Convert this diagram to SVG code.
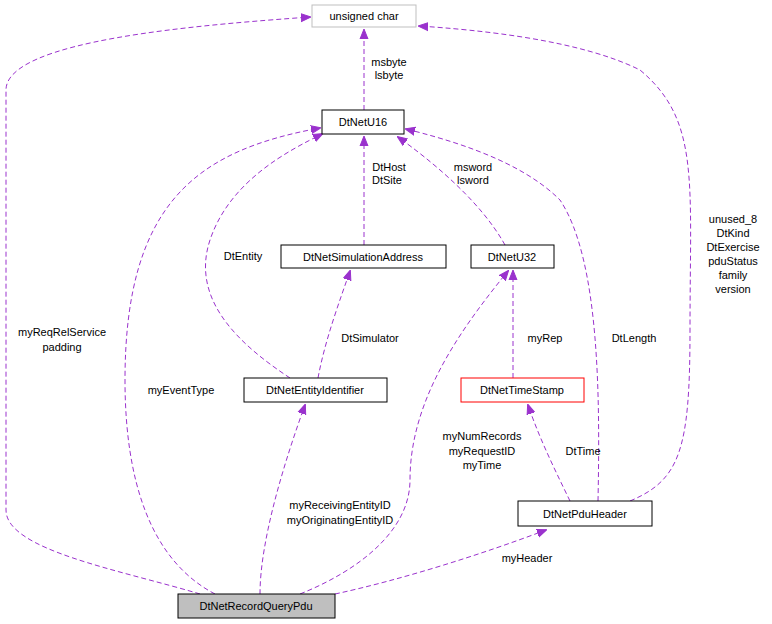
<svg xmlns="http://www.w3.org/2000/svg" width="772" height="624" viewBox="0 0 772 624">
<style>
text{font-family:"Liberation Sans",Arial,sans-serif;font-size:11px;fill:#000}
.n rect{fill:#fff;stroke:#000;stroke-width:1}
.e path{fill:none;stroke:#9a32cd;stroke-width:1;stroke-dasharray:5,3}
.c{text-anchor:middle}
</style>
<defs><marker id="a" markerWidth="10" markerHeight="10" refX="9" refY="5" orient="auto" markerUnits="userSpaceOnUse"><path d="M0,1 L10,5 L0,9 z" fill="#9a32cd" stroke="#9a32cd"/></marker></defs>
<rect width="772" height="624" fill="#fff"/>
<g class="e">
<path d="M364,110 V30" marker-end="url(#a)"/>
<path d="M364,245 V137" marker-end="url(#a)"/>
<path d="M505,245 C480,200 430,160 398,137" marker-end="url(#a)"/>
<path d="M290,378 C240,345 190,300 210,240 C230,180 290,150 322,134" marker-end="url(#a)"/>
<path d="M318,378 C325,340 340,300 350,271" marker-end="url(#a)"/>
<path d="M513,378 V271" marker-end="url(#a)"/>
<path d="M570,501 C555,470 540,440 528,405" marker-end="url(#a)"/>
<path d="M598,501 C600,400 600,260 560,200 C520,160 450,140 406,129" marker-end="url(#a)"/>
<path d="M630,501 C680,480 690,450 690,330 C690,180 700,120 640,70 C580,40 480,30 419,26" marker-end="url(#a)"/>
<path d="M200,594 C120,570 6,550 6,510 V90 C6,40 200,25 310,17" marker-end="url(#a)"/>
<path d="M215,594 C150,560 125,480 125,380 C125,200 200,150 320,128" marker-end="url(#a)"/>
<path d="M260,594 C260,540 285,460 305,405" marker-end="url(#a)"/>
<path d="M300,594 C360,570 410,530 410,480 C410,400 460,330 508,271" marker-end="url(#a)"/>
<path d="M335,594 C400,580 480,555 546,530" marker-end="url(#a)"/>
</g>
<g id="n_uchar" class="n"><rect x="312" y="5" width="104" height="22" style="stroke:#bfbfbf"/><text x="364" y="20" class="c">unsigned char</text></g>
<g id="n_u16" class="n"><rect x="322" y="110" width="82" height="24"/><text x="363" y="126" class="c">DtNetU16</text></g>
<g id="n_sim" class="n"><rect x="281" y="245" width="165" height="23"/><text x="363" y="261" class="c">DtNetSimulationAddress</text></g>
<g id="n_u32" class="n"><rect x="471" y="245" width="83" height="23"/><text x="512" y="261" class="c">DtNetU32</text></g>
<g id="n_ent" class="n"><rect x="244" y="378" width="143" height="24"/><text x="315" y="394" class="c">DtNetEntityIdentifier</text></g>
<g id="n_ts" class="n"><rect x="461" y="378" width="123" height="24" style="stroke:#ff0000"/><text x="522" y="394" class="c">DtNetTimeStamp</text></g>
<g id="n_pdu" class="n"><rect x="518" y="501" width="134" height="25"/><text x="585" y="518" class="c">DtNetPduHeader</text></g>
<g id="n_rq" class="n"><rect x="178" y="594" width="157" height="24" style="fill:#bfbfbf"/><text x="256" y="610" class="c">DtNetRecordQueryPdu</text></g>
<g id="labels">
<text x="389" y="66" class="c">msbyte</text><text x="389" y="79" class="c">lsbyte</text>
<text x="389" y="171" class="c">DtHost</text><text x="387" y="184" class="c">DtSite</text>
<text x="473" y="171" class="c">msword</text><text x="473" y="184" class="c">lsword</text>
<text x="243" y="260" class="c">DtEntity</text>
<text x="370" y="342" class="c">DtSimulator</text>
<text x="545" y="342" class="c">myRep</text>
<text x="583" y="455" class="c">DtTime</text>
<text x="634" y="342" class="c">DtLength</text>
<text x="733" y="223" class="c">unused_8</text><text x="733" y="237" class="c">DtKind</text><text x="733" y="251" class="c">DtExercise</text><text x="733" y="265" class="c">pduStatus</text><text x="733" y="279" class="c">family</text><text x="733" y="293" class="c">version</text>
<text x="62" y="336" class="c">myReqRelService</text><text x="62" y="351" class="c">padding</text>
<text x="181" y="394" class="c">myEventType</text>
<text x="340" y="509" class="c">myReceivingEntityID</text><text x="340" y="524" class="c">myOriginatingEntityID</text>
<text x="482" y="440" class="c">myNumRecords</text><text x="482" y="455" class="c">myRequestID</text><text x="482" y="469" class="c">myTime</text>
<text x="527" y="562" class="c">myHeader</text>
</g>
</svg>
